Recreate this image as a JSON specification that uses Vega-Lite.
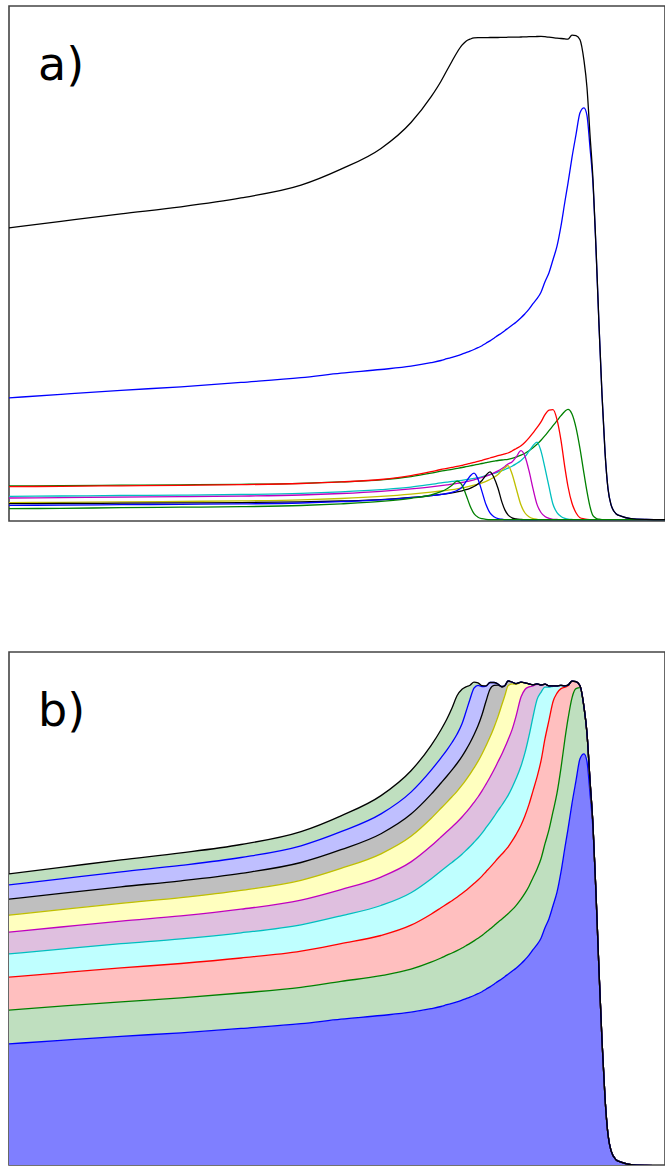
{
"$schema": "https://vega.github.io/schema/vega-lite/v6.json",
"padding": {"left": 8, "top": 5, "right": 0, "bottom": 0},
"config": {"view": {"stroke": "#444", "strokeWidth": 1.6}, "font": "DejaVu Sans"},
"spacing": 129,
"resolve": {"scale": {"x": "independent", "y": "independent", "stroke": "independent", "fill": "independent"}},
"datasets": {"d": [
{"x":8,"t":291.8,"i":121.8,"h":33.7,"g":33,"f":23.3,"e":21.7,"d":17,"c":16,"b":14.3,"a":11},
{"x":60,"t":298.4,"i":125.4,"h":34.1,"g":33.4,"f":23.7,"e":22.1,"d":17.4,"c":16.2,"b":14.6,"a":11.4},
{"x":120,"t":305.9,"i":129.4,"h":34.5,"g":33.9,"f":24.2,"e":22.6,"d":17.8,"c":16.5,"b":15,"a":12},
{"x":180,"t":312.9,"i":132.9,"h":34.9,"g":34.4,"f":24.6,"e":23,"d":18.3,"c":16.8,"b":15.4,"a":12.5},
{"x":240,"t":321.8,"i":137.3,"h":35.4,"g":35,"f":25.2,"e":23.6,"d":18.8,"c":17.1,"b":15.8,"a":13},
{"x":300,"t":334.5,"i":142,"h":36.4,"g":36.2,"f":26.3,"e":24.7,"d":19.8,"c":17.8,"b":16.7,"a":14.2},
{"x":340,"t":350.5,"i":146.5,"h":37.8,"g":37.8,"f":27.8,"e":26.2,"d":21.2,"c":18.7,"b":18,"a":15.9},
{"x":380,"t":371.2,"i":150.2,"h":39.8,"g":40.2,"f":30,"e":28.4,"d":23.3,"c":20.1,"b":19.8,"a":18.3},
{"x":410,"t":397.2,"i":153.5,"h":43,"g":44,"f":32.5,"e":30.8,"d":25.6,"c":22.2,"b":22,"a":21.4},
{"x":430,"t":422.8,"i":157,"h":46.5,"g":48,"f":35.3,"e":32.8,"d":27.6,"c":24.1,"b":24,"a":24.7},
{"x":440,"t":438.5,"i":159.2,"h":48.5,"g":50.2,"f":36.8,"e":34,"d":28.7,"c":25.3,"b":25.2,"a":28},
{"x":446,"t":449.5,"i":161,"h":49.5,"g":51.3,"f":37.6,"e":34.8,"d":29.4,"c":26.1,"b":26.2,"a":31},
{"x":451,"t":458.5,"i":162.3,"h":50.4,"g":52.3,"f":38.3,"e":35.5,"d":30.1,"c":26.9,"b":27.4,"a":34.5},
{"x":456,"t":467.2,"i":163.8,"h":51.3,"g":53.3,"f":38.8,"e":36.3,"d":30.9,"c":27.8,"b":29.2,"a":38.5},
{"x":461,"t":474.5,"i":165.5,"h":52.2,"g":54.4,"f":39.4,"e":37.2,"d":31.8,"c":28.9,"b":32.5,"a":34.5},
{"x":465,"t":478.5,"i":167,"h":53,"g":55.3,"f":40,"e":38,"d":32.6,"c":30,"b":38,"a":25},
{"x":469,"t":480.5,"i":168.5,"h":53.8,"g":56.3,"f":40.6,"e":38.9,"d":33.5,"c":31.4,"b":43.5,"a":14},
{"x":473,"t":481.8,"i":170.2,"h":54.6,"g":57.3,"f":41.3,"e":39.9,"d":34.5,"c":33.2,"b":46.5,"a":6},
{"x":477,"t":482,"i":172,"h":55.4,"g":58.3,"f":42,"e":41,"d":35.6,"c":35.6,"b":40.5,"a":2.5},
{"x":481,"t":482,"i":174,"h":56.2,"g":59.4,"f":43,"e":42.2,"d":36.9,"c":39.2,"b":28.1,"a":1},
{"x":485,"t":482,"i":176.5,"h":57,"g":60.5,"f":44,"e":43.5,"d":38.4,"c":44.5,"b":15.1,"a":0.3},
{"x":489,"t":482.2,"i":178.8,"h":57.8,"g":61.7,"f":45.1,"e":45,"d":40.2,"c":47.8,"b":6.8,"a":0},
{"x":493,"t":482.2,"i":181.5,"h":58.5,"g":62.8,"f":46.3,"e":46.8,"d":42.4,"c":42,"b":2.9,"a":0},
{"x":497,"t":482.2,"i":184.3,"h":59.2,"g":64,"f":47.6,"e":48.8,"d":45.2,"c":31.5,"b":1.1,"a":0},
{"x":501,"t":482.3,"i":187,"h":59.7,"g":65,"f":49,"e":51.2,"d":49.5,"c":17.3,"b":0.5,"a":0},
{"x":504,"t":482.3,"i":189.3,"h":60,"g":65.8,"f":50.2,"e":53.3,"d":52,"c":9.6,"b":0.1,"a":0},
{"x":507,"t":482.5,"i":191.5,"h":60.4,"g":66.7,"f":51.5,"e":55.7,"d":54,"c":4.9,"b":0,"a":0},
{"x":511,"t":482.5,"i":194.5,"h":61.3,"g":68.7,"f":53.5,"e":57.8,"d":46,"c":1.9,"b":0,"a":0},
{"x":515,"t":482.5,"i":197.5,"h":62.6,"g":71,"f":55.8,"e":62.5,"d":32,"c":0.7,"b":0,"a":0},
{"x":520,"t":482.7,"i":202,"h":64.5,"g":74,"f":59.2,"e":69,"d":14.6,"c":0.2,"b":0,"a":0},
{"x":524,"t":482.8,"i":206,"h":66.5,"g":77.5,"f":63,"e":63.2,"d":6.7,"c":0,"b":0,"a":0},
{"x":528,"t":483,"i":210.5,"h":69,"g":81.8,"f":68.5,"e":49,"d":2.9,"c":0,"b":0,"a":0},
{"x":532,"t":483,"i":216,"h":72,"g":86.8,"f":74,"e":31,"d":1.1,"c":0,"b":0,"a":0},
{"x":536,"t":483.2,"i":221,"h":75.5,"g":92,"f":77.6,"e":15.3,"d":0.4,"c":0,"b":0,"a":0},
{"x":540,"t":483.3,"i":227.5,"h":79.5,"g":97.8,"f":68.6,"e":7.2,"d":0.1,"c":0,"b":0,"a":0},
{"x":544,"t":483,"i":238,"h":84,"g":105,"f":51.5,"e":3.1,"d":0,"c":0,"b":0,"a":0},
{"x":548,"t":482.5,"i":247,"h":89,"g":109.5,"f":33,"e":1.3,"d":0,"c":0,"b":0,"a":0},
{"x":552,"t":482,"i":260,"h":94,"g":110,"f":15.4,"e":0.4,"d":0,"c":0,"b":0,"a":0},
{"x":556,"t":481.5,"i":273.5,"h":99,"g":100.1,"f":7.1,"e":0.2,"d":0,"c":0,"b":0,"a":0},
{"x":560,"t":481.2,"i":293.8,"h":104,"g":79.3,"f":3.2,"e":0,"d":0,"c":0,"b":0,"a":0},
{"x":564,"t":480.8,"i":318.7,"h":108.5,"g":51.3,"f":1.3,"e":0,"d":0,"c":0,"b":0,"a":0},
{"x":567,"t":480.5,"i":336.5,"h":110.3,"g":33.2,"f":0.5,"e":0,"d":0,"c":0,"b":0,"a":0},
{"x":571,"t":484.5,"i":362.3,"h":105.6,"g":16.4,"f":0.2,"e":0,"d":0,"c":0,"b":0,"a":0},
{"x":575,"t":484,"i":385,"h":92,"g":7,"f":0,"e":0,"d":0,"c":0,"b":0,"a":0},
{"x":579,"t":480,"i":407,"h":71,"g":2,"f":0,"e":0,"d":0,"c":0,"b":0,"a":0},
{"x":583,"t":459,"i":411.8,"h":46,"g":0.8,"f":0,"e":0,"d":0,"c":0,"b":0,"a":0},
{"x":586,"t":432,"i":404,"h":28,"g":0.3,"f":0,"e":0,"d":0,"c":0,"b":0,"a":0},
{"x":589,"t":385,"i":372,"h":13,"g":0.1,"f":0,"e":0,"d":0,"c":0,"b":0,"a":0},
{"x":592,"t":340,"i":336,"h":4,"g":0,"f":0,"e":0,"d":0,"c":0,"b":0,"a":0},
{"x":595,"t":272,"i":270.5,"h":1.5,"g":0,"f":0,"e":0,"d":0,"c":0,"b":0,"a":0},
{"x":598,"t":195,"i":194.5,"h":0.5,"g":0,"f":0,"e":0,"d":0,"c":0,"b":0,"a":0},
{"x":601,"t":125,"i":125,"h":0,"g":0,"f":0,"e":0,"d":0,"c":0,"b":0,"a":0},
{"x":604,"t":68,"i":68,"h":0,"g":0,"f":0,"e":0,"d":0,"c":0,"b":0,"a":0},
{"x":607,"t":31,"i":31,"h":0,"g":0,"f":0,"e":0,"d":0,"c":0,"b":0,"a":0},
{"x":610,"t":15,"i":15,"h":0,"g":0,"f":0,"e":0,"d":0,"c":0,"b":0,"a":0},
{"x":615,"t":6,"i":6,"h":0,"g":0,"f":0,"e":0,"d":0,"c":0,"b":0,"a":0},
{"x":620,"t":3.5,"i":3.5,"h":0,"g":0,"f":0,"e":0,"d":0,"c":0,"b":0,"a":0},
{"x":630,"t":1,"i":1,"h":0,"g":0,"f":0,"e":0,"d":0,"c":0,"b":0,"a":0},
{"x":645,"t":0.3,"i":0.3,"h":0,"g":0,"f":0,"e":0,"d":0,"c":0,"b":0,"a":0},
{"x":668,"t":0,"i":0,"h":0,"g":0,"f":0,"e":0,"d":0,"c":0,"b":0,"a":0}
]},
"vconcat": [
{
"width": 656, "height": 515,
"layer": [
{"data": {"name": "d"},
 "transform": [{"fold": ["i","h","g","f","e","d","c","b","a"], "as": ["series","value"]}],
 "mark": {"type": "line", "interpolate": "monotone", "strokeWidth": 1.3, "clip": true},
 "encoding": {
  "x": {"field": "x", "type": "quantitative", "scale": {"domain": [8, 664], "nice": false, "zero": false}, "axis": null},
  "y": {"field": "value", "type": "quantitative", "scale": {"domain": [-1.3, 513.7], "nice": false, "zero": false}, "axis": null},
  "stroke": {"field": "series", "type": "nominal", "scale": {"domain": ["i","h","g","f","e","d","c","b","a"], "range": ["#0000ff","#008000","#ff0000","#00bfbf","#bf00bf","#bfbf00","#000000","#0000ff","#008000"]}, "legend": null}
 }},
{"data": {"name": "d"},
 "mark": {"type": "line", "interpolate": "monotone", "strokeWidth": 1.3, "color": "#000000", "clip": true},
 "encoding": {
  "x": {"field": "x", "type": "quantitative"},
  "y": {"field": "t", "type": "quantitative"}
 }},
{"data": {"values": [{"label": "a)", "lx": 37, "ly": 439.5}]},
 "mark": {"type": "text", "fontSize": 46, "font": "DejaVu Sans", "align": "left", "baseline": "alphabetic", "color": "#000000"},
 "encoding": {
  "x": {"field": "lx", "type": "quantitative"},
  "y": {"field": "ly", "type": "quantitative"},
  "text": {"field": "label"}
 }}
]
},
{
"width": 656, "height": 513,
"layer": [
{"data": {"name": "d"},
 "transform": [{"fold": ["i","h","g","f","e","d","c","b","a"], "as": ["series","value"]}],
 "mark": {"type": "area", "interpolate": "monotone", "clip": true},
 "encoding": {
  "x": {"field": "x", "type": "quantitative", "scale": {"domain": [8, 664], "nice": false, "zero": false}, "axis": null},
  "y": {"field": "value", "type": "quantitative", "stack": "zero", "scale": {"domain": [0.7, 513.7], "nice": false, "zero": false}, "axis": null},
  "fill": {"field": "series", "type": "nominal", "scale": {"domain": ["i","h","g","f","e","d","c","b","a"], "range": ["#7f7fff","#bfdfbf","#ffbfbf","#bfffff","#dfbfdf","#ffffbf","#bfbfbf","#bfbfff","#bfdfbf"]}, "legend": null}
 }},
{"data": {"name": "d"},
 "transform": [{"fold": ["i","h","g","f","e","d","c","b","a"], "as": ["series","value"]}],
 "mark": {"type": "line", "interpolate": "monotone", "strokeWidth": 1.3, "clip": true},
 "encoding": {
  "x": {"field": "x", "type": "quantitative"},
  "y": {"field": "value", "type": "quantitative", "stack": "zero"},
  "stroke": {"field": "series", "type": "nominal", "scale": {"domain": ["i","h","g","f","e","d","c","b","a"], "range": ["#0000ff","#008000","#ff0000","#00bfbf","#bf00bf","#bfbf00","#000000","#0000ff","#000000"]}, "legend": null}
 }},
{"data": {"values": [{"label": "b)", "lx": 37, "ly": 439.5}]},
 "mark": {"type": "text", "fontSize": 46, "font": "DejaVu Sans", "align": "left", "baseline": "alphabetic", "color": "#000000"},
 "encoding": {
  "x": {"field": "lx", "type": "quantitative"},
  "y": {"field": "ly", "type": "quantitative"},
  "text": {"field": "label"}
 }}
]
}
]
}
